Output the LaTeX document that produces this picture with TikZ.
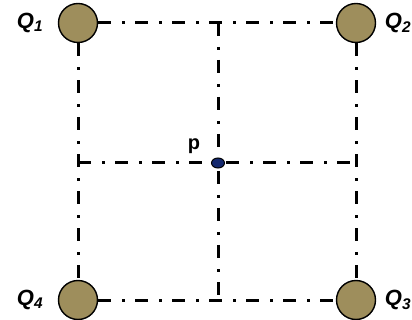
\documentclass[tikz,border=0pt]{standalone}
\usepackage{fontspec}
\setmainfont{Liberation Sans}
\usetikzlibrary{shapes.geometric}
\begin{document}
\begin{tikzpicture}[x=1pt,y=-1pt,
  grid/.style={line width=3pt, dash pattern=on 13pt off 11pt on 3pt off 10pt},
  qball/.style={circle, draw=black, line width=1.4pt, fill=olive, minimum size=39pt, inner sep=0pt},
  pdot/.style={ellipse, draw=black, line width=1pt, fill=navy, minimum width=13pt, minimum height=10pt, inner sep=0pt},
  lab/.style={font=\fontsize{22}{22}\selectfont\bfseries\itshape}]
\definecolor{olive}{RGB}{158,142,92}
\definecolor{navy}{RGB}{20,40,110}
\useasboundingbox (0,0) rectangle (412,320);
\node[qball] (q1) at (78,23) {};
\node[qball] (q2) at (356,23) {};
\node[qball] (q3) at (356,300) {};
\node[qball] (q4) at (78,300) {};
\coordinate (tm) at (218,23);
\coordinate (bm) at (218,300);
\coordinate (lm) at (78,163);
\coordinate (rm) at (356,163);
\draw[grid] (q1.east) -- (q2.west);
\draw[grid] (q4.east) -- (q3.west);
\draw[grid] (q1.south) -- (q4.north);
\draw[grid] (q2.south) -- (q3.north);
\draw[grid] (lm) -- (rm);
\draw[grid] (tm) -- (bm);
\node[pdot] (p) at (218,163) {};
\node[lab] (l1) at (30,23) {Q\textsubscript{1}};
\node[lab] (l2) at (398,23) {Q\textsubscript{2}};
\node[lab] (l3) at (398,300) {Q\textsubscript{3}};
\node[lab] (l4) at (30,300) {Q\textsubscript{4}};
\node[font=\fontsize{20}{20}\selectfont\bfseries] (pl) at (194,146) {p};
\end{tikzpicture}
\end{document}
